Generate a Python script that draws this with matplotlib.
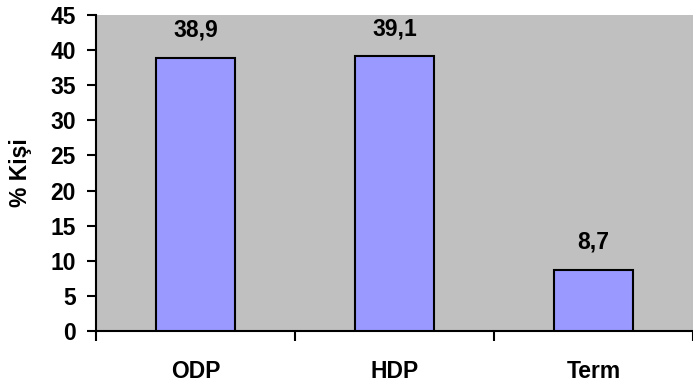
import matplotlib
matplotlib.use("Agg")
import matplotlib.pyplot as plt
import numpy as np

categories = ["ODP", "HDP", "Term"]
values = [38.9, 39.1, 8.7]
value_labels = ["38,9", "39,1", "8,7"]
yticks = [0, 5, 10, 15, 20, 25, 30, 35, 40, 45]

plt.rcParams['font.family'] = ['Liberation Sans', 'DejaVu Sans']
plt.rcParams['font.weight'] = 'bold'
FS = 16.5

fig = plt.figure(figsize=(6.93, 3.87), dpi=100)
ax = fig.add_axes([96/693, 1-331/387, 1-96/693, (331-15)/387])
ax.set_facecolor('#C0C0C0')

x = np.arange(len(categories))
ax.bar(x, values, width=0.4, color='#9999FF', edgecolor='black', linewidth=1.5, zorder=3)
for xi, v, lab in zip(x, values, value_labels):
    ax.text(xi, v + 3.0, lab, ha='center', va='baseline', fontsize=FS, fontweight='bold')

ax.set_xlim(-0.5, 2.5)
ax.set_ylim(0, 45)
ax.set_yticks(yticks)
ax.set_yticklabels([str(t) for t in yticks], fontsize=FS, fontweight='bold')
ax.set_xticks([-0.5, 0.5, 1.5, 2.5])
ax.set_xticklabels([])
ax.set_xticks(x, minor=True)
ax.set_xticklabels(categories, minor=True, fontsize=FS, fontweight='bold')
ax.tick_params(axis='x', which='minor', length=0, pad=21)
ax.tick_params(axis='x', which='major', length=7, width=1.5, direction='out')
ax.tick_params(axis='y', length=6.5, width=1.5, direction='out', pad=8)
ax.set_ylabel('% Kişi', fontsize=FS, fontweight='bold', labelpad=13)

for s in ['top', 'right']:
    ax.spines[s].set_visible(False)
for s in ['left', 'bottom']:
    ax.spines[s].set_linewidth(1.5)

fig.savefig('out.png', dpi=100, facecolor='white')
